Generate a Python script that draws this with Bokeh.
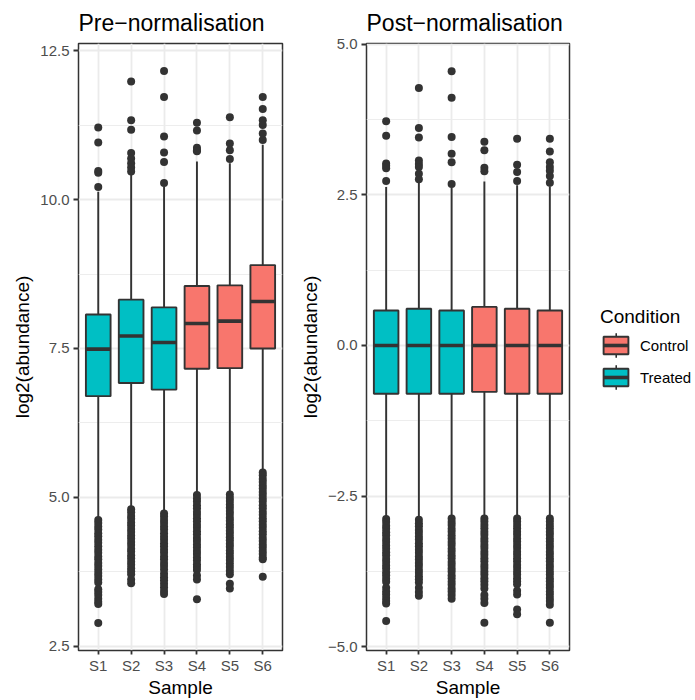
from bokeh.plotting import figure
from bokeh.layouts import row
from bokeh.models import (ColumnDataSource, FactorRange, Range1d, FixedTicker,
                          Legend, LegendItem)
from bokeh.transform import dodge
from bokeh.embed import file_html
from bokeh.resources import INLINE

FONT = "Liberation Sans"

samples = ["S1", "S2", "S3", "S4", "S5", "S6"]
condition = ["Treated", "Treated", "Treated", "Control", "Control", "Control"]
condition_colors = {"Control": "#F8766D", "Treated": "#00BFC4"}
legend_order = ["Control", "Treated"]

# ---------------- Pre-normalisation ----------------
pre_q1 = [6.70, 6.92, 6.81, 7.16, 7.17, 7.50]
pre_median = [7.49, 7.71, 7.60, 7.92, 7.96, 8.29]
pre_q3 = [8.07, 8.32, 8.19, 8.55, 8.56, 8.90]
pre_lower = [4.64, 4.82, 4.74, 5.06, 5.08, 5.42]
pre_upper = [10.13, 10.44, 10.22, 10.64, 10.61, 10.92]
pre_out_high = [
    [11.21, 10.96, 10.48, 10.45, 10.21],
    [11.98, 11.33, 11.17, 10.78, 10.69, 10.61, 10.54, 10.47],
    [12.16, 11.72, 11.06, 10.79, 10.63, 10.28],
    [11.29, 11.16, 10.87, 10.83, 10.81],
    [11.38, 10.94, 10.83, 10.68],
    [11.72, 11.52, 11.33, 11.25, 11.11, 11.00],
]
pre_out_low = [
    [4.62, 4.57, 4.51, 4.46, 4.40, 4.35, 4.29, 4.24, 4.18, 4.12, 4.07, 4.01, 3.96,
     3.90, 3.85, 3.79, 3.73, 3.68, 3.62, 3.57, 3.46, 3.41, 3.36, 3.30, 3.25, 3.21, 2.89],
    [4.80, 4.75, 4.69, 4.64, 4.58, 4.53, 4.47, 4.42, 4.36, 4.31, 4.25, 4.20, 4.14,
     4.09, 4.03, 3.98, 3.92, 3.87, 3.81, 3.76, 3.71, 3.62, 3.56],
    [4.73, 4.68, 4.62, 4.57, 4.51, 4.46, 4.40, 4.34, 4.29, 4.23, 4.18, 4.12, 4.07,
     4.01, 3.96, 3.90, 3.85, 3.79, 3.72, 3.66, 3.61, 3.55, 3.49, 3.43, 3.38],
    [5.04, 4.98, 4.93, 4.87, 4.82, 4.76, 4.71, 4.65, 4.60, 4.54, 4.49, 4.43, 4.38,
     4.32, 4.27, 4.21, 4.16, 4.10, 4.05, 3.99, 3.94, 3.88, 3.83, 3.78, 3.69, 3.62, 3.29],
    [5.05, 4.99, 4.94, 4.88, 4.83, 4.77, 4.72, 4.66, 4.61, 4.55, 4.50, 4.44, 4.39,
     4.33, 4.28, 4.22, 4.17, 4.11, 4.06, 4.00, 3.95, 3.89, 3.83, 3.77, 3.71, 3.55, 3.47],
    [5.42, 5.37, 5.31, 5.26, 5.20, 5.15, 5.09, 5.04, 4.98, 4.93, 4.87, 4.82, 4.76,
     4.71, 4.65, 4.60, 4.54, 4.49, 4.43, 4.38, 4.32, 4.27, 4.21, 4.16, 4.10, 4.05,
     3.99, 3.96, 3.67],
]
pre_ticks = [2.5, 5.0, 7.5, 10.0, 12.5]
pre_tick_labels = ["2.5", "5.0", "7.5", "10.0", "12.5"]
pre_minor = [3.75, 6.25, 8.75, 11.25]

# ---------------- Post-normalisation ----------------
post_q1 = [-0.80, -0.80, -0.80, -0.77, -0.80, -0.80]
post_median = [0.0, 0.0, 0.0, 0.0, 0.0, 0.0]
post_q3 = [0.58, 0.61, 0.58, 0.64, 0.61, 0.58]
post_lower = [-2.87, -2.89, -2.87, -2.87, -2.87, -2.87]
post_upper = [2.63, 2.72, 2.62, 2.72, 2.66, 2.64]
post_out_high = [
    [3.72, 3.48, 3.02, 2.98, 2.94, 2.73],
    [4.27, 3.61, 3.45, 3.07, 3.01, 2.96, 2.85, 2.76],
    [4.55, 4.11, 3.46, 3.18, 3.04, 2.68],
    [3.38, 3.24, 2.95, 2.89],
    [3.43, 3.00, 2.88, 2.73],
    [3.43, 3.22, 3.04, 2.96, 2.90, 2.81, 2.70],
]
post_out_low = [
    [-2.88, -2.93, -2.99, -3.04, -3.10, -3.15, -3.21, -3.26, -3.32, -3.37, -3.43, -3.48,
     -3.54, -3.59, -3.65, -3.70, -3.76, -3.81, -3.87, -3.92, -4.02, -4.08, -4.13, -4.19,
     -4.24, -4.28, -4.57],
    [-2.89, -2.95, -3.00, -3.06, -3.11, -3.17, -3.22, -3.28, -3.33, -3.39, -3.44, -3.50,
     -3.55, -3.61, -3.66, -3.72, -3.77, -3.83, -3.88, -3.93, -4.02, -4.09, -4.15],
    [-2.87, -2.93, -2.98, -3.04, -3.09, -3.15, -3.20, -3.26, -3.31, -3.37, -3.42, -3.48,
     -3.53, -3.59, -3.64, -3.70, -3.75, -3.81, -3.86, -3.92, -3.97, -4.03, -4.08, -4.14,
     -4.20],
    [-2.87, -2.92, -2.98, -3.03, -3.09, -3.14, -3.20, -3.25, -3.31, -3.36, -3.42, -3.47,
     -3.53, -3.58, -3.64, -3.69, -3.75, -3.80, -3.86, -3.91, -3.97, -4.03, -4.14, -4.20,
     -4.27, -4.60],
    [-2.87, -2.92, -2.98, -3.03, -3.09, -3.14, -3.20, -3.25, -3.31, -3.36, -3.42, -3.47,
     -3.53, -3.58, -3.64, -3.69, -3.75, -3.80, -3.86, -3.91, -3.96, -4.07, -4.13, -4.38,
     -4.46],
    [-2.87, -2.92, -2.98, -3.03, -3.09, -3.14, -3.20, -3.25, -3.31, -3.36, -3.42, -3.47,
     -3.53, -3.58, -3.64, -3.69, -3.75, -3.80, -3.86, -3.91, -3.97, -4.02, -4.08, -4.13,
     -4.19, -4.24, -4.30, -4.60],
]
post_ticks = [-5.0, -2.5, 0.0, 2.5, 5.0]
post_tick_labels = ["\u22125.0", "\u22122.5", "0.0", "2.5", "5.0"]
post_minor = [-3.75, -1.25, 1.25, 3.75]

LINE = "#333333"
GRID = "#EBEBEB"
H = 700
PAD = 1 / 30  # 0.6 category units of padding on each side, as in ggplot


def box_source(q1, med, q3, lower, upper):
    return ColumnDataSource(dict(
        sample=samples, q1=q1, med=med, q3=q3, lower=lower, upper=upper,
        condition=condition,
        color=[condition_colors[c] for c in condition],
    ))


def add_boxes(p, src, visible=True):
    p.segment(x0="sample", y0="q3", x1="sample", y1="upper", source=src,
              line_color=LINE, line_width=1.9, visible=visible)
    p.segment(x0="sample", y0="q1", x1="sample", y1="lower", source=src,
              line_color=LINE, line_width=1.9, visible=visible)
    br = p.vbar(x="sample", width=0.75, bottom="q1", top="q3", source=src,
                fill_color="color", line_color=LINE, line_width=1.9,
                visible=visible)
    mr = p.segment(x0=dodge("sample", -0.375, range=p.x_range), y0="med",
                   x1=dodge("sample", 0.375, range=p.x_range), y1="med",
                   source=src, line_color=LINE, line_width=3.6, visible=visible)
    return br, mr


def box_panel(title, q1, med, q3, lower, upper, out_high, out_low, y_range,
              ticks, tick_labels, minor, width, border_left, border_right):
    p = figure(
        x_range=FactorRange(factors=samples, range_padding=PAD),
        y_range=Range1d(*y_range),
        width=width, height=H,
        output_backend="svg", toolbar_location=None,
        min_border_left=border_left, min_border_right=border_right,
        min_border_top=43, min_border_bottom=48,
        title=title,
    )
    p.background_fill_color = "white"
    p.border_fill_color = "white"
    p.outline_line_color = LINE
    p.outline_line_width = 1.5

    p.title.text_font = FONT
    p.title.text_font_size = "23px"
    p.title.text_font_style = "normal"
    p.title.text_color = "black"
    p.title.align = "left"
    p.title.standoff = 15

    ticker = FixedTicker(ticks=ticks, minor_ticks=minor)
    p.yaxis.ticker = ticker
    p.ygrid.ticker = ticker
    p.yaxis.major_label_overrides = {t: l for t, l in zip(ticks, tick_labels)}

    for ax in p.axis:
        ax.axis_line_color = None
        ax.major_tick_line_color = LINE
        ax.major_tick_line_width = 1.8
        ax.major_tick_in = 0
        ax.minor_tick_line_color = None
        ax.major_label_text_font = FONT
        ax.major_label_text_font_size = "15px"
        ax.major_label_text_color = "#4D4D4D"
        ax.axis_label_text_font = FONT
        ax.axis_label_text_font_size = "19px"
        ax.axis_label_text_font_style = "normal"
        ax.axis_label_text_color = "black"
    p.xaxis.major_tick_out = 4
    p.xaxis.major_label_standoff = 2
    p.xaxis.axis_label = "Sample"
    p.xaxis.axis_label_standoff = 0
    p.yaxis.major_tick_out = 5
    p.yaxis.major_label_standoff = 4
    p.yaxis.axis_label = "log2(abundance)"
    p.yaxis.axis_label_standoff = 4

    p.xgrid.grid_line_color = GRID
    p.xgrid.grid_line_width = 1.8
    p.ygrid.grid_line_color = GRID
    p.ygrid.grid_line_width = 1.8
    p.ygrid.minor_grid_line_color = GRID
    p.ygrid.minor_grid_line_width = 0.9

    add_boxes(p, box_source(q1, med, q3, lower, upper))

    ox, oy = [], []
    for s, hi, lo in zip(samples, out_high, out_low):
        for v in hi + lo:
            ox.append(s)
            oy.append(v)
    p.scatter(x=ox, y=oy, size=8, fill_color=LINE, line_color=None)
    return p


p1 = box_panel("Pre\u2212normalisation", pre_q1, pre_median, pre_q3,
               pre_lower, pre_upper, pre_out_high, pre_out_low,
               (2.43, 12.62), pre_ticks, pre_tick_labels, pre_minor,
               290, 78, 8)
p2 = box_panel("Post\u2212normalisation", post_q1, post_median, post_q3,
               post_lower, post_upper, post_out_high, post_out_low,
               (-5.06, 5.01), post_ticks, post_tick_labels, post_minor,
               285, 76, 6)

# Legend panel: key glyphs come from hidden renderers of the same box data.
p3 = figure(
    x_range=FactorRange(factors=samples, range_padding=PAD),
    y_range=Range1d(100, 101),
    width=120, height=H,
    output_backend="svg", toolbar_location=None,
    x_axis_type=None, y_axis_type=None,
    min_border=0, min_border_left=0, min_border_right=0,
    min_border_top=0, min_border_bottom=0,
)
p3.outline_line_color = None
p3.background_fill_color = "white"
p3.border_fill_color = "white"
src3 = box_source(post_q1, post_median, post_q3, post_lower, post_upper)
wr = p3.vbar(x="sample", width=0.05, bottom="lower", top="upper", source=src3,
             fill_color=LINE, line_color=LINE, line_width=0.5, visible=False)
br, mr = add_boxes(p3, src3, visible=False)

common = dict(padding=0, margin=0, border_line_color=None,
              background_fill_alpha=0, label_text_font=FONT,
              label_text_font_size="15px", label_height=20)
LX, LY = 25, 262

# whisker part of the keys (drawn first, underneath)
leg_w = Legend(
    items=[LegendItem(label=" ", renderers=[wr], index=condition.index(c))
           for c in legend_order],
    location=(LX + 14.5, LY - 4),
    glyph_width=2, glyph_height=30, spacing=2, label_text_alpha=0,
    label_standoff=0, **common,
)
# boxes, title and labels
leg_b = Legend(
    items=[LegendItem(label=c, renderers=[br], index=condition.index(c))
           for c in legend_order],
    location=(LX, LY),
    title="Condition",
    title_text_font=FONT, title_text_font_size="19px",
    title_text_font_style="normal", title_text_color="black",
    title_standoff=6,
    label_text_color="black", label_standoff=9,
    glyph_width=31, glyph_height=22, spacing=10, **common,
)
# median line of the keys (on top)
leg_m = Legend(
    items=[LegendItem(label=" ", renderers=[mr], index=condition.index(c))
           for c in legend_order],
    location=(LX + 3, LY),
    glyph_width=25, glyph_height=22, spacing=10, label_text_alpha=0,
    label_standoff=0, **common,
)
p3.add_layout(leg_w)
p3.add_layout(leg_b)
p3.add_layout(leg_m)

layout = row(p1, p2, p3)
open("out.html", "w").write(file_html(layout, INLINE))
